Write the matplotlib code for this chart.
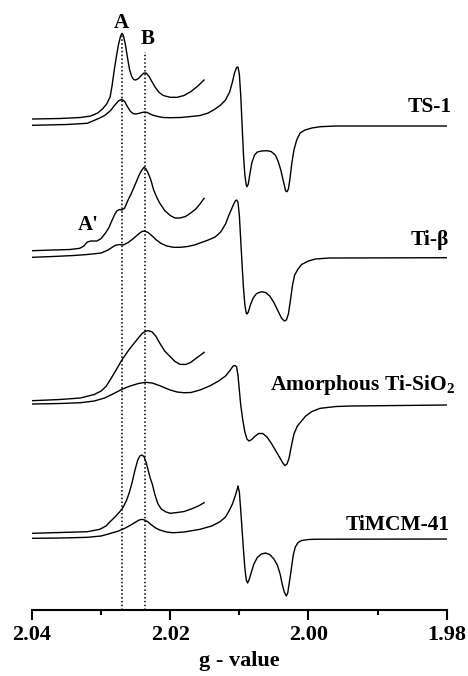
import numpy as np
import matplotlib
matplotlib.use('Agg')
import matplotlib.pyplot as plt

plt.rcParams['font.family'] = ['Liberation Serif', 'DejaVu Serif']
plt.rcParams['mathtext.fontset'] = 'custom'
plt.rcParams['mathtext.rm'] = 'Liberation Serif'
plt.rcParams['mathtext.bf'] = 'Liberation Serif:bold'

# EPR spectra (g value, intensity in a.u.)
# each sample: full spectrum (lower) and enlarged low-field part (upper)

ts1_g = [2.0400, 2.0350, 2.0320, 2.0302, 2.0295, 2.0287, 2.0280, 2.0275, 2.0270, 2.0266,
         2.0262, 2.0258, 2.0254, 2.0250, 2.0246, 2.0241, 2.0237, 2.0233, 2.0229, 2.0225,
         2.0218, 2.0210, 2.0200, 2.0185, 2.0170, 2.0157, 2.0145, 2.0135, 2.0127, 2.0120,
         2.0114, 2.0110, 2.0107, 2.0104, 2.0102, 2.0100, 2.0098, 2.0096, 2.0094, 2.0092,
         2.0090, 2.0089, 2.0087, 2.0085, 2.0082, 2.0078, 2.0074, 2.0068, 2.0060, 2.0054,
         2.0048, 2.0044, 2.0040, 2.0036, 2.0033, 2.0031, 2.0029, 2.0027, 2.0024, 2.0021,
         2.0017, 2.0012, 2.0005, 1.9995, 1.9983, 1.9960, 1.9800]
ts1_i = [484.7, 485.5, 486.7, 492, 494.5, 499, 505, 509, 510.7, 508.5,
         503.5, 499, 496.5, 496, 496.5, 497.5, 498, 497.5, 496, 494.8,
         493.5, 492.5, 492.3, 492.5, 493.5, 494.5, 497, 501, 505, 510,
         518, 528, 537, 542.5, 543, 536, 515, 485, 455, 435,
         425, 423.3, 426, 435, 447, 455, 458, 459, 459.3, 458.5,
         455, 449, 440, 428, 419, 418.3, 421, 430, 447, 460,
         470, 477, 480, 482, 483.3, 484, 484]

ts1_zoom_g = [2.0400, 2.0360, 2.0330, 2.0315, 2.0305, 2.0298, 2.0292, 2.0287, 2.0284, 2.0281,
              2.0278, 2.0275, 2.0272, 2.0270, 2.0268, 2.0265, 2.0262, 2.0259, 2.0256, 2.0253,
              2.0250, 2.0246, 2.0242, 2.0238, 2.0235, 2.0231, 2.0227, 2.0222, 2.0216, 2.0210,
              2.0200, 2.0190, 2.0180, 2.0170, 2.0160, 2.0151]
ts1_zoom_i = [491, 491.5, 492.5, 494, 497, 501, 506, 513, 525, 540,
              553, 565, 573.5, 576.7, 575, 566, 553, 541, 534, 530.5,
              530, 531.5, 534.5, 537, 537, 534, 529, 523, 517.5, 514.5,
              512.7, 512.7, 514.5, 518.5, 524, 530]

tib_g = [2.0400, 2.0370, 2.0340, 2.0320, 2.0300, 2.0290, 2.0280, 2.0274, 2.0268, 2.0262,
         2.0256, 2.0250, 2.0245, 2.0241, 2.0237, 2.0232, 2.0226, 2.0220, 2.0213, 2.0205,
         2.0195, 2.0185, 2.0175, 2.0165, 2.0157, 2.0145, 2.0135, 2.0127, 2.0120, 2.0115,
         2.0110, 2.0106, 2.0104, 2.0102, 2.0100, 2.0098, 2.0096, 2.0094, 2.0092, 2.0090,
         2.0089, 2.0087, 2.0084, 2.0080, 2.0075, 2.0068, 2.0062, 2.0056, 2.0050, 2.0044,
         2.0039, 2.0035, 2.0032, 2.0029, 2.0026, 2.0023, 2.0020, 2.0015, 2.0010, 2.0000,
         1.9990, 1.9970, 1.9800]
tib_i = [352.7, 353.5, 354.5, 355.5, 357, 360, 364.5, 365.5, 365, 367,
         370, 373.5, 376.5, 378.5, 379, 377.5, 374, 370, 366.5, 364,
         362.7, 362.7, 363.5, 365, 367, 370, 373, 378, 386, 395,
         403, 409, 410, 408, 395, 370, 345, 322, 305, 297,
         296, 298, 305, 312, 316.5, 318.3, 317.5, 314, 307.5, 299,
         292, 289, 290, 296, 310, 325, 335, 341, 345.5, 349,
         351, 352, 352.3]

tib_zoom_g = [2.0400, 2.0370, 2.0345, 2.0331, 2.0325, 2.0320, 2.0315, 2.0306, 2.0300, 2.0294,
              2.0289, 2.0284, 2.0280, 2.0277, 2.0273, 2.0270, 2.0266, 2.0261, 2.0256, 2.0250,
              2.0245, 2.0241, 2.0238, 2.0235, 2.0232, 2.0228, 2.0224, 2.0219, 2.0215, 2.0208,
              2.0200, 2.0193, 2.0186, 2.0178, 2.0171, 2.0163, 2.0157, 2.0151]
tib_zoom_i = [359.3, 360, 360.5, 361.7, 364, 368, 369, 369, 371.5, 376.7,
              382, 390, 396, 399.3, 400.5, 400, 402, 410, 417, 426.7,
              435, 440, 442.7, 441, 437, 430, 420, 412, 406.7, 399.5,
              394.5, 392, 392, 393.5, 396.7, 401, 406, 411.7]

amo_g = [2.0400, 2.0360, 2.0330, 2.0310, 2.0295, 2.0283, 2.0270, 2.0258, 2.0246, 2.0236,
         2.0226, 2.0215, 2.0200, 2.0190, 2.0180, 2.0170, 2.0157, 2.0143, 2.0130, 2.0120,
         2.0113, 2.0109, 2.0106, 2.0104, 2.0102, 2.0100, 2.0098, 2.0095, 2.0092, 2.0089,
         2.0086, 2.0082, 2.0077, 2.0072, 2.0066, 2.0060, 2.0054, 2.0048, 2.0042, 2.0037,
         2.0034, 2.0031, 2.0028, 2.0025, 2.0021, 2.0016, 2.0010, 2.0004, 1.9995, 1.9983,
         1.9960, 1.9940, 1.9800]
amo_i = [206, 206.5, 207.3, 209, 212, 216, 220.7, 224, 226.5, 227.7,
         227, 224.3, 220, 218, 217.3, 217.5, 220, 224, 229, 234,
         240, 244, 244.5, 243, 235, 220, 205, 190, 178, 171,
         169, 170.5, 174, 176.5, 176.5, 173, 167, 160, 153, 147,
         144.5, 146, 152, 163, 176, 184, 189, 194, 198.5, 201.7,
         203.5, 204, 205]

amo_zoom_g = [2.0400, 2.0360, 2.0330, 2.0310, 2.0300, 2.0293, 2.0287, 2.0280, 2.0270, 2.0260,
              2.0252, 2.0245, 2.0240, 2.0235, 2.0231, 2.0226, 2.0221, 2.0215, 2.0208, 2.0200,
              2.0193, 2.0186, 2.0178, 2.0171, 2.0163, 2.0157, 2.0151]
amo_zoom_i = [209.3, 210.5, 212, 215.5, 219, 223.5, 230, 238, 250, 260,
              267, 273, 277, 279, 279.3, 278, 274, 266.7, 259, 253.3,
              248.5, 245.7, 245.5, 247.3, 251.5, 254.5, 257.7]

mcm_g = [2.0400, 2.0360, 2.0320, 2.0300, 2.0287, 2.0275, 2.0265, 2.0257, 2.0250, 2.0245,
         2.0241, 2.0237, 2.0232, 2.0227, 2.0221, 2.0215, 2.0205, 2.0196, 2.0180, 2.0157,
         2.0140, 2.0128, 2.0120, 2.0115, 2.0110, 2.0106, 2.0103, 2.0102, 2.0100, 2.0098,
         2.0096, 2.0094, 2.0092, 2.0090, 2.0088, 2.0086, 2.0083, 2.0079, 2.0074, 2.0068,
         2.0062, 2.0056, 2.0050, 2.0045, 2.0041, 2.0038, 2.0035, 2.0032, 2.0030, 2.0028,
         2.0025, 2.0022, 2.0019, 2.0015, 2.0010, 2.0000, 1.9988, 1.9800]
mcm_i = [71.7, 72, 72.7, 74, 76.5, 79, 82, 85, 88, 90,
         90.7, 90, 88, 85, 82, 80, 78, 77.3, 78, 80.7,
         84, 88.3, 93, 99, 106, 114, 121, 124, 118, 100,
         80, 60, 42, 30, 27, 30, 37, 46, 52.5, 56,
         57, 55.5, 51, 45, 36, 26, 18, 14, 17, 26,
         40, 55, 63, 67.5, 69.5, 70.5, 70.8, 71]

mcm_zoom_g = [2.0400, 2.0360, 2.0320, 2.0302, 2.0293, 2.0287, 2.0280, 2.0273, 2.0268, 2.0263,
              2.0259, 2.0255, 2.0251, 2.0247, 2.0244, 2.0241, 2.0238, 2.0235, 2.0232, 2.0229,
              2.0226, 2.0222, 2.0218, 2.0213, 2.0206, 2.0200, 2.0190, 2.0180, 2.0167, 2.0158,
              2.0151]
mcm_zoom_i = [76.7, 77.5, 78.3, 80.7, 84, 88.3, 93, 98.3, 103, 110,
              118, 128, 140, 150, 154, 155, 153.5, 148, 140, 132,
              126, 115, 106.5, 101, 98, 96.7, 97.5, 98.5, 101.7, 104.5,
              107.3]

# sample labels: (text, g at right edge, intensity)
labels = ['TS-1', 'Ti-β', r'Amorphous Ti-SiO$_\mathbf{2}$', 'TiMCM-41']
label_g = [1.9792, 1.9797, 1.9787, 1.9795]
label_i = [503, 370, 225, 85]

# marker lines for signals A and B
g_A = 2.0270
g_B = 2.0237
top_A = 577
top_B = 558

fig = plt.figure(figsize=(4.68, 6.76), dpi=100)
ax = fig.add_axes([0.0684, 0.0976, 0.886, 0.8876])

for g, inten in [(ts1_g, ts1_i), (ts1_zoom_g, ts1_zoom_i),
                 (tib_g, tib_i), (tib_zoom_g, tib_zoom_i),
                 (amo_g, amo_i), (amo_zoom_g, amo_zoom_i),
                 (mcm_g, mcm_i), (mcm_zoom_g, mcm_zoom_i)]:
    ax.plot(g, inten, color='black', lw=1.0, solid_joinstyle='round')

ax.plot([g_A, g_A], [0, top_A], color='black', lw=1.1, ls=(0, (1, 1.5)))
ax.plot([g_B, g_B], [0, top_B], color='black', lw=1.1, ls=(0, (1, 1.5)))

ax.text(g_A, 587, 'A', ha='center', va='center', fontsize=15, fontweight='bold')
ax.text(2.0232, 571, 'B', ha='center', va='center', fontsize=15, fontweight='bold')
ax.text(2.0318, 385, "A'", ha='center', va='center', fontsize=15, fontweight='bold')

for t, g, inten in zip(labels, label_g, label_i):
    ax.text(g, inten, t, ha='right', va='center', fontsize=15.5, fontweight='bold')

ax.set_xlim(2.04, 1.98)
ax.set_ylim(0, 600)
ax.set_xticks([2.04, 2.02, 2.00, 1.98])
ax.set_xticklabels(['2.04', '2.02', '2.00', '1.98'])
ax.set_xticks([2.03, 2.01, 1.99], minor=True)
ax.set_yticks([])
for s in ['left', 'right', 'top']:
    ax.spines[s].set_visible(False)
ax.spines['bottom'].set_linewidth(1.5)
ax.tick_params(axis='x', which='major', direction='out', length=7, width=1.5, pad=4,
               labelsize=16)
ax.tick_params(axis='x', which='minor', direction='out', length=3.5, width=1.5)
for lab in ax.get_xticklabels():
    lab.set_fontweight('bold')
ax.set_xlabel('g - value', fontsize=16, fontweight='bold', labelpad=4)

fig.savefig('out.png', dpi=100)
